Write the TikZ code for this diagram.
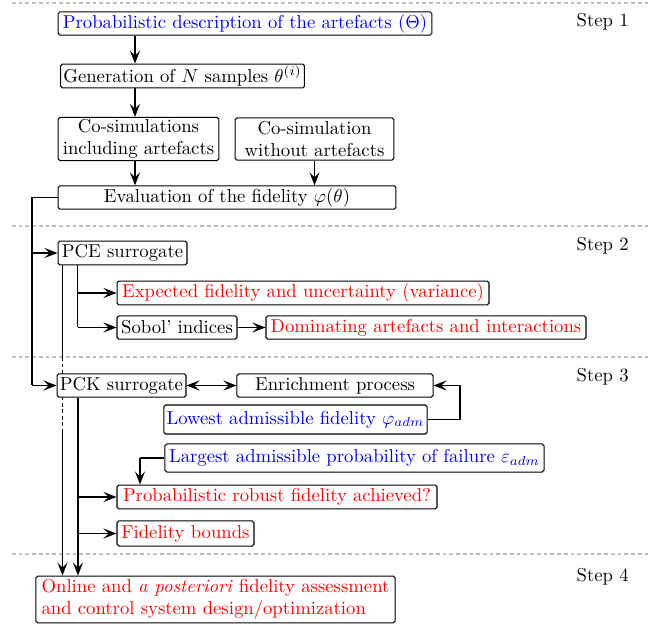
\documentclass[tikz,border=0pt]{standalone}
\usetikzlibrary{arrows.meta}
\definecolor{pblue}{RGB}{0,0,255}
\definecolor{pred}{RGB}{255,0,0}
\tikzset{
  box/.style={draw, rounded corners=1pt, line width=0.55pt, inner xsep=1.5pt, inner ysep=1pt, minimum height=12.5pt, fill=white},
  tip/.tip={Stealth[length=7pt,width=5.4pt,inset=2.8pt]},
  arr/.style={line width=0.55pt, -tip},
  dblarr/.style={line width=0.55pt, tip-tip},
  ln/.style={line width=0.55pt},
  sep/.style={draw=black!25, line width=0.6pt, dash pattern=on 2pt off 1.6pt},
  steplbl/.style={anchor=east, inner sep=0pt}
}
\begin{document}
\begin{tikzpicture}[x=0.535pt, y=-0.535pt]
\useasboundingbox (0,0) rectangle (649,630);
% separators
\draw[sep] (12,3) -- (649,3);
\draw[sep] (12,226) -- (649,226);
\draw[sep] (12,357) -- (649,357);
\draw[sep] (12,554) -- (649,554);
% step labels
\node[steplbl] (s1) at (629,22) {Step 1};
\node[steplbl] (s2) at (629,246) {Step 2};
\node[steplbl] (s3) at (629,377) {Step 3};
\node[steplbl] (s4) at (629,577) {Step 4};
% helper coordinates
\coordinate (xA) at (135,0);
\coordinate (xT) at (32,0);
\coordinate (xP) at (62.5,0);
\coordinate (xQ) at (77.5,0);
\coordinate (xR) at (78,0);
\coordinate (xE) at (460,0);
\coordinate (xL) at (140,0);
\coordinate (yD1) at (0,357);
\coordinate (yD2) at (0,430);
% step 1
\node[box, text=pblue, minimum width=200pt] (b1) at (245,23.5) {Probabilistic description of the artefacts ($\Theta$)};
\node[box, minimum width=130pt, minimum height=12.8pt] (b2) at (182.5,76) {Generation of $N$ samples $\theta^{(i)}$};
\node[box, align=center, minimum width=86pt, minimum height=22.5pt] (b3) at (138.5,139) {Co-simulations\\including artefacts};
\node[box, align=center, minimum width=85pt, minimum height=22.5pt] (b4) at (314.5,139) {Co-simulation\\without artefacts};
\node[box, minimum width=180.8pt] (b5) at (227,197.5) {Evaluation of the fidelity $\varphi(\theta)$};
\draw[arr] (b1.south -| xA) -- (b2.north -| xA);
\draw[arr] (b2.south -| xA) -- (b3.north -| xA);
\draw[arr] (b3.south -| xA) -- (b5.north -| xA);
\draw[arr] (b4.south) -- (b4.south |- b5.north);
% step 2
\node[box, minimum width=69pt, minimum height=12.8pt] (pce) at (122.5,253) {PCE surrogate};
\node[box, text=pred, minimum width=199pt, minimum height=12.8pt] (exp) at (303,293) {Expected fidelity and uncertainty (variance)};
\node[box, minimum width=64.2pt] (sob) at (177,327.5) {Sobol' indices};
\node[box, text=pred, minimum width=171.2pt] (dom) at (426,327.5) {Dominating artefacts and interactions};
% PCE long line (drawn before PCK so that the box covers it)
\draw[ln] (pce.south -| xP) -- (yD1 -| xP);
\draw[ln, dash pattern=on 2pt off 1.5pt] (yD1 -| xP) -- (yD2 -| xP);
% step 3
\node[box, minimum width=69pt] (pck) at (121.5,385.5) {PCK surrogate};
\node[box, minimum width=104.9pt] (enr) at (335,385.5) {Enrichment process};
\node[box, text=pblue, minimum width=140.7pt, minimum height=15.5pt] (low) at (295.5,419.5) {Lowest admissible fidelity $\varphi_{adm}$};
\node[box, text=pblue, minimum width=202.8pt, minimum height=15pt] (lar) at (354.5,458) {Largest admissible probability of failure $\varepsilon_{adm}$};
\node[box, text=pred, minimum width=171.2pt, minimum height=12.8pt] (rob) at (277,497) {Probabilistic robust fidelity achieved?};
\node[box, text=pred, minimum width=73.3pt, minimum height=13.4pt] (fb) at (185.5,533.5) {Fidelity bounds};
% step 4
\node[box, text=pred, align=left, minimum width=192.1pt, minimum height=25.1pt] (onl) at (215.5,599.5) {Online and \emph{a posteriori} fidelity assessment\\and control system design/optimization};
% trunk from evaluation
\draw[ln] (b5.west) -- (b5.west -| xT) -- (pck.west -| xT);
\draw[arr] (pce.west -| xT) -- (pce.west);
\draw[arr] (pck.west -| xT) -- (pck.west);
% PCE branches
\draw[ln] (pce.south -| xQ) -- (sob.west -| xQ);
\draw[arr] (exp.west -| xQ) -- (exp.west);
\draw[arr] (sob.west -| xQ) -- (sob.west);
\draw[arr] (sob.east) -- (dom.west);
\draw[arr] (yD2 -| xP) -- (onl.north -| xP);
% PCK branches
\draw[arr] (pck.south -| xR) -- (onl.north -| xR);
\draw[arr] (rob.west -| xR) -- (rob.west);
\draw[arr] (fb.west -| xR) -- (fb.west);
\draw[dblarr] (pck.east) -- (enr.west);
\draw[ln] (low.east) -- (low.east -| xE) -- (enr.east -| xE);
\draw[arr] (enr.east -| xE) -- (enr.east);
\draw[ln] (lar.west) -- (lar.west -| xL);
\draw[arr] (lar.west -| xL) -- (rob.north -| xL);
\end{tikzpicture}
\end{document}
